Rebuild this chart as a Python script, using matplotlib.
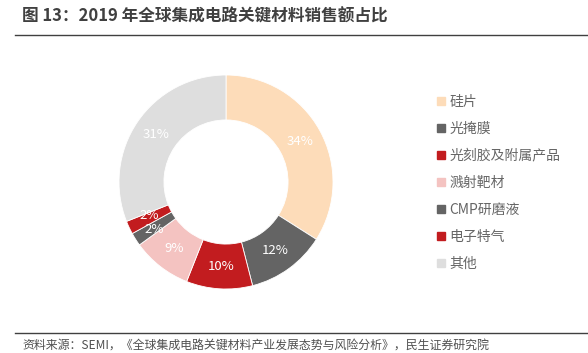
import matplotlib.pyplot as plt
from matplotlib.lines import Line2D
import numpy as np

plt.rcParams['font.family'] = ['Noto Sans CJK SC', 'DejaVu Sans']

# data
labels = ["硅片", "光掩膜", "光刻胶及附属产品", "溅射靶材", "CMP研磨液", "电子特气", "其他"]
shares = [34, 12, 10, 9, 2, 2, 31]
colors = ["#FDDCB9", "#646464", "#C21C1F", "#F4C3C1", "#646464", "#C21C1F", "#DEDEDE"]

W, H = 588, 353
fig = plt.figure(figsize=(W / 100, H / 100), dpi=100)

# donut axes, centre (226,182) px, radius 107 px
cx, cy, R = 226, 182, 107
ax = fig.add_axes([(cx - R) / W, (H - cy - R) / H, 2 * R / W, 2 * R / H])
wedges, texts = ax.pie(shares, colors=colors, startangle=90, counterclock=False,
                       radius=1, wedgeprops=dict(width=0.42, edgecolor="white", linewidth=0.6))
ax.set_xlim(-1, 1)
ax.set_ylim(-1, 1)
ax.axis("off")

# percentage labels in the ring (the two thin 2% slices pushed apart a little)
total = sum(shares)
ang = 90.0
nudge = {4: -0.025, 5: 0.025}
for i, s in enumerate(shares):
    mid = ang - s / total * 360 / 2
    ang -= s / total * 360
    r = 0.79
    ax.text(r * np.cos(np.radians(mid)), r * np.sin(np.radians(mid)) + nudge.get(i, 0), f"{s}%",
            ha="center", va="center", color="white", fontsize=9.5)

# legend
handles = [Line2D([], [], marker="s", linestyle="none", markersize=6,
                  markerfacecolor=c, markeredgecolor=c) for c in colors]
leg = fig.legend(handles, labels, loc="upper left", bbox_to_anchor=(430 / W, 1 - 88 / H),
                 frameon=False, fontsize=10, labelspacing=0.93, handlelength=0.6,
                 handletextpad=0.3, borderpad=0)
for t in leg.get_texts():
    t.set_color("#666666")

# title and rules
fig.text(22 / W, 1 - 17 / H, "图 13：2019 年全球集成电路关键材料销售额占比",
         fontsize=12, fontweight="bold", color="#404040", va="center", ha="left")
fig.add_artist(Line2D([15 / W, 1], [1 - 35 / H, 1 - 35 / H], color="#404040", linewidth=1))
fig.add_artist(Line2D([15 / W, 1], [1 - 333 / H, 1 - 333 / H], color="#404040", linewidth=1))
fig.text(22 / W, 1 - 345 / H,
         "资料来源：SEMI，《全球集成电路关键材料产业发展态势与风险分析》，民生证券研究院",
         fontsize=8.6, color="#505050", va="center", ha="left")

fig.savefig("out.png", dpi=100)
